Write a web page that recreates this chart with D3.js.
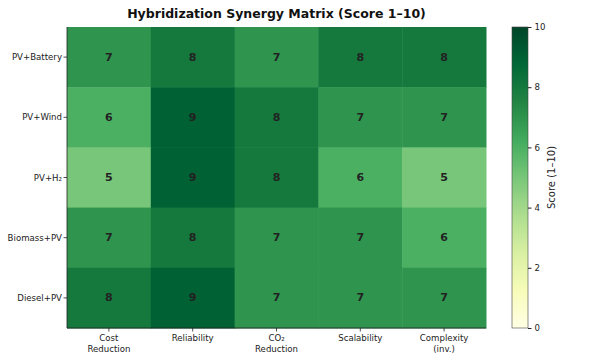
<!DOCTYPE html>
<html><head><meta charset="utf-8">
<script src="https://cdn.jsdelivr.net/npm/d3@7"></script>
<style>body{margin:0;background:#fff}svg{font-family:"DejaVu Sans",sans-serif}</style>
</head><body><svg id="c" width="600" height="360"></svg>
<script>
const rows = ["PV+Battery", "PV+Wind", "PV+H₂", "Biomass+PV", "Diesel+PV"];
const cols = ["Cost\nReduction", "Reliability", "CO₂\nReduction", "Scalability", "Complexity\n(inv.)"];
const values = [
  [7, 8, 7, 8, 8],
  [6, 9, 8, 7, 7],
  [5, 9, 8, 6, 5],
  [7, 8, 7, 7, 6],
  [8, 9, 7, 7, 7]
];
const cbTicks = [0, 2, 4, 6, 8, 10];
const title = "Hybridization Synergy Matrix (Score 1–10)";
const cbLabel = "Score (1–10)";

const svg = d3.select("#c");
const L = 67, R = 486, T = 27, B = 328;
const x = d3.scaleBand().domain(d3.range(cols.length)).range([L, R]);
const y = d3.scaleBand().domain(d3.range(rows.length)).range([T, B]);
const stops = d3.schemeYlGn[9];
const color = d3.scaleLinear().domain(stops.map((s, i) => i * 10 / (stops.length - 1))).range(stops)
  .interpolate(d3.interpolateRgb).clamp(true);

const cells = [];
values.forEach((r, i) => r.forEach((v, j) => cells.push({i, j, v})));
svg.append("g").selectAll("rect").data(cells).join("rect")
  .attr("x", d => x(d.j)).attr("y", d => y(d.i))
  .attr("width", x.bandwidth() + 0.5).attr("height", y.bandwidth() + 0.5)
  .attr("fill", d => color(d.v));
svg.append("g").selectAll("text").data(cells).join("text")
  .attr("x", d => x(d.j) + x.bandwidth() / 2).attr("y", d => y(d.i) + y.bandwidth() / 2)
  .attr("text-anchor", "middle").attr("dominant-baseline", "central")
  .attr("font-size", 11).attr("font-weight", "bold").attr("fill", "#222")
  .text(d => d.v);

svg.append("line").attr("x1", L).attr("x2", L).attr("y1", T).attr("y2", B).attr("stroke", "#222").attr("stroke-width", 0.8);
svg.append("line").attr("x1", L).attr("x2", R).attr("y1", B).attr("y2", B).attr("stroke", "#222").attr("stroke-width", 0.8);

const yg = svg.append("g");
rows.forEach((r, i) => {
  const yy = y(i) + y.bandwidth() / 2;
  yg.append("line").attr("x1", L - 3.5).attr("x2", L).attr("y1", yy).attr("y2", yy).attr("stroke", "#222").attr("stroke-width", 0.8);
  yg.append("text").attr("x", L - 5).attr("y", yy).attr("text-anchor", "end").attr("dominant-baseline", "central")
    .attr("font-size", 8.6).attr("fill", "#222").text(r);
});
const xg = svg.append("g");
cols.forEach((c, j) => {
  const xx = x(j) + x.bandwidth() / 2;
  xg.append("line").attr("x1", xx).attr("x2", xx).attr("y1", B).attr("y2", B + 3.5).attr("stroke", "#222").attr("stroke-width", 0.8);
  const t = xg.append("text").attr("x", xx).attr("y", B + 13).attr("text-anchor", "middle").attr("font-size", 8.6).attr("fill", "#222");
  c.split("\n").forEach((s, k) => t.append("tspan").attr("x", xx).attr("dy", k ? 10.5 : 0).text(s));
});

svg.append("text").attr("x", (L + R) / 2).attr("y", 18).attr("text-anchor", "middle")
  .attr("font-size", 12.5).attr("font-weight", "bold").attr("fill", "#111").text(title);

const cbX = 512, cbW = 16;
const cy = d3.scaleLinear().domain([0, 10]).range([B, T]);
const defs = svg.append("defs");
const grad = defs.append("linearGradient").attr("id", "g").attr("x1", 0).attr("y1", 1).attr("x2", 0).attr("y2", 0);
d3.range(0, 1.0001, 0.025).forEach(t => grad.append("stop").attr("offset", t).attr("stop-color", color(t * 10)));
svg.append("rect").attr("x", cbX).attr("y", T).attr("width", cbW).attr("height", B - T).attr("fill", "url(#g)")
  .attr("stroke", "#444").attr("stroke-width", 0.6);
const ca = svg.append("g").attr("transform", `translate(${cbX + cbW},0)`)
  .call(d3.axisRight(cy).tickValues(cbTicks).tickSize(3.5).tickFormat(d3.format("d")));
ca.select(".domain").remove();
ca.selectAll("text").attr("font-size", 8.6).attr("fill", "#222").attr("font-family", "DejaVu Sans");
ca.selectAll("line").attr("stroke", "#222");
svg.append("text").attr("transform", `translate(551,${(T + B) / 2}) rotate(-90)`).attr("text-anchor", "middle")
  .attr("dominant-baseline", "central").attr("font-size", 10).attr("fill", "#222").text(cbLabel);
</script></body></html>
